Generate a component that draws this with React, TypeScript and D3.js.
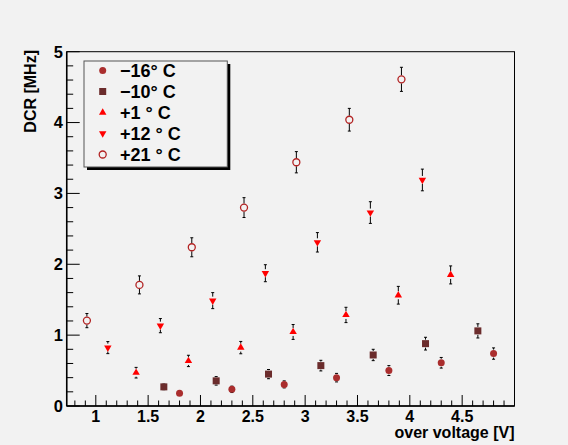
import React from "react";
import * as d3 from "d3";

const xM16 = [1.8, 2.3, 2.8, 3.3, 3.8, 4.3, 4.8];
const yM16 = [0.18, 0.235, 0.305, 0.4, 0.5, 0.61, 0.74];
const eM16 = [0.03, 0.045, 0.05, 0.06, 0.07, 0.075, 0.08];

const xM10 = [1.65, 2.15, 2.65, 3.15, 3.65, 4.15, 4.65];
const yM10 = [0.27, 0.355, 0.45, 0.57, 0.72, 0.88, 1.06];
const eM10 = [0.04, 0.06, 0.065, 0.075, 0.08, 0.09, 0.1];

const xP1 = [1.385, 1.885, 2.385, 2.885, 3.39, 3.89, 4.39];
const yP1 = [0.47, 0.636, 0.824, 1.045, 1.285, 1.563, 1.85];
const eP1 = [0.075, 0.08, 0.087, 0.105, 0.108, 0.125, 0.127];

const xP12 = [1.115, 1.617, 2.117, 2.62, 3.117, 3.623, 4.12];
const yP12 = [0.824, 1.134, 1.487, 1.874, 2.31, 2.73, 3.19];
const eP12 = [0.085, 0.1, 0.113, 0.12, 0.137, 0.153, 0.153];

const xP21 = [0.915, 1.417, 1.917, 2.416, 2.916, 3.422, 3.92];
const yP21 = [1.205, 1.709, 2.24, 2.8, 3.44, 4.04, 4.61];
const eP21 = [0.1, 0.127, 0.134, 0.14, 0.15, 0.16, 0.17];

const legendLabels = ["\u221216\u00b0 C", "\u221210\u00b0 C", "+1 \u00b0 C", "+12 \u00b0 C", "+21 \u00b0 C"];
const xTickLabels = ["1", "1.5", "2", "2.5", "3", "3.5", "4", "4.5"];
const yTickLabels = ["0", "1", "2", "3", "4", "5"];

type Kind = "circle" | "square" | "up" | "down" | "open";

const series: { xs: number[]; ys: number[]; es: number[]; kind: Kind; color: string }[] = [
  { xs: xM16, ys: yM16, es: eM16, kind: "circle", color: "#aa2e2e" },
  { xs: xM10, ys: yM10, es: eM10, kind: "square", color: "#6b2c2c" },
  { xs: xP1, ys: yP1, es: eP1, kind: "up", color: "#ff0000" },
  { xs: xP12, ys: yP12, es: eP12, kind: "down", color: "#ff0000" },
  { xs: xP21, ys: yP21, es: eP21, kind: "open", color: "#b22222" },
];

const W = 568;
const H = 445;
const L = 66.7, R = 514.5, T = 51.7, B = 406;
const FONT = "'Liberation Sans', Arial, Helvetica, sans-serif";

function Marker({ kind, color, cx, cy }: { kind: Kind; color: string; cx: number; cy: number }) {
  if (kind === "circle") return <circle cx={cx} cy={cy} r={3.5} fill={color} />;
  if (kind === "open")
    return <circle cx={cx} cy={cy} r={3.5} fill="none" stroke={color} strokeWidth={1.3} />;
  if (kind === "square")
    return <rect x={cx - 3.5} y={cy - 3.5} width={7} height={7} fill={color} />;
  const s = d3.symbol(d3.symbolTriangle, 24)();
  return (
    <path
      d={s as string}
      transform={`translate(${cx},${cy}) ${kind === "down" ? "rotate(180)" : ""}`}
      fill={color}
    />
  );
}

export default function App() {
  const x = d3.scaleLinear().domain([0.722, 5.0]).range([L, R]);
  const y = d3.scaleLinear().domain([0, 5]).range([B, T]);

  const xMinor = d3.range(8, 50).map((v) => v / 10);
  const yMinor = d3.range(0, 26).map((v) => v / 5);

  return (
    <svg
      width={W}
      height={H}
      style={{ position: "absolute", left: 0, top: 0, background: "#f2f2f2" }}
      fontFamily={FONT}
    >
      <rect x={0} y={0} width={W} height={H} fill="#f2f2f2" />
      {/* frame */}
      <rect x={L} y={T} width={R - L} height={B - T} fill="none" stroke="#000" strokeWidth={1} />
      {/* x axis */}
      <line x1={L} x2={R} y1={B} y2={B} stroke="#000" strokeWidth={1.5} />
      {xMinor.map((v) => {
        const major = Math.abs(v * 2 - Math.round(v * 2)) < 1e-6;
        return (
          <line
            key={"xm" + v}
            x1={x(v)}
            x2={x(v)}
            y1={B}
            y2={B - (major ? 11 : 5.5)}
            stroke="#000"
            strokeWidth={1}
          />
        );
      })}
      {xTickLabels.map((t) => (
        <text
          key={"xt" + t}
          x={x(+t)}
          y={421.5}
          textAnchor="middle"
          fontSize={16}
          fontWeight="bold"
        >
          {t}
        </text>
      ))}
      <text x={R} y={438} textAnchor="end" fontSize={16} fontWeight="bold">
        over voltage [V]
      </text>
      {/* y axis */}
      <line x1={L} x2={L} y1={T} y2={B} stroke="#000" strokeWidth={1.5} />
      {yMinor.map((v) => {
        const major = Math.abs(v - Math.round(v)) < 1e-6;
        return (
          <line
            key={"ym" + v}
            x1={L}
            x2={L + (major ? 13 : 6.5)}
            y1={y(v)}
            y2={y(v)}
            stroke="#000"
            strokeWidth={1}
          />
        );
      })}
      {yTickLabels.map((t) => (
        <text
          key={"yt" + t}
          x={63}
          y={y(+t) + 5.8}
          textAnchor="end"
          fontSize={16.5}
          fontWeight="bold"
        >
          {t}
        </text>
      ))}
      <text
        transform={`translate(36,50) rotate(-90)`}
        textAnchor="end"
        fontSize={16}
        fontWeight="bold"
      >
        DCR [MHz]
      </text>
      {/* data */}
      {series.map((s, si) =>
        s.xs.map((xv, i) => {
          const cx = x(xv);
          const cy = y(s.ys[i]);
          const top = y(s.ys[i] + s.es[i]);
          const bot = y(s.ys[i] - s.es[i]);
          return (
            <g key={`p${si}-${i}`}>
              {cy - 4 > top && (
                <line x1={cx} x2={cx} y1={top} y2={cy - 4} stroke="#000" strokeWidth={1} />
              )}
              {bot > cy + 4 && (
                <line x1={cx} x2={cx} y1={cy + 4} y2={bot} stroke="#000" strokeWidth={1} />
              )}
              <line x1={cx - 1.5} x2={cx + 1.5} y1={top} y2={top} stroke="#000" strokeWidth={1} />
              <line x1={cx - 1.5} x2={cx + 1.5} y1={bot} y2={bot} stroke="#000" strokeWidth={1} />
              <Marker kind={s.kind} color={s.color} cx={cx} cy={cy} />
            </g>
          );
        })
      )}
      {/* legend */}
      <rect x={87} y={64} width={143.3} height={106} fill="#000" />
      <rect x={84} y={61} width={143.3} height={106} fill="#f2f2f2" stroke="#555" strokeWidth={1} />
      {series.map((s, i) => {
        const ly = 70.5 + i * 21;
        return (
          <g key={"lg" + i}>
            <Marker kind={s.kind} color={s.color} cx={102.7} cy={ly} />
            <text x={120} y={ly + 6.5} fontSize={18} fontWeight="bold">
              {legendLabels[i]}
            </text>
          </g>
        );
      })}
    </svg>
  );
}
